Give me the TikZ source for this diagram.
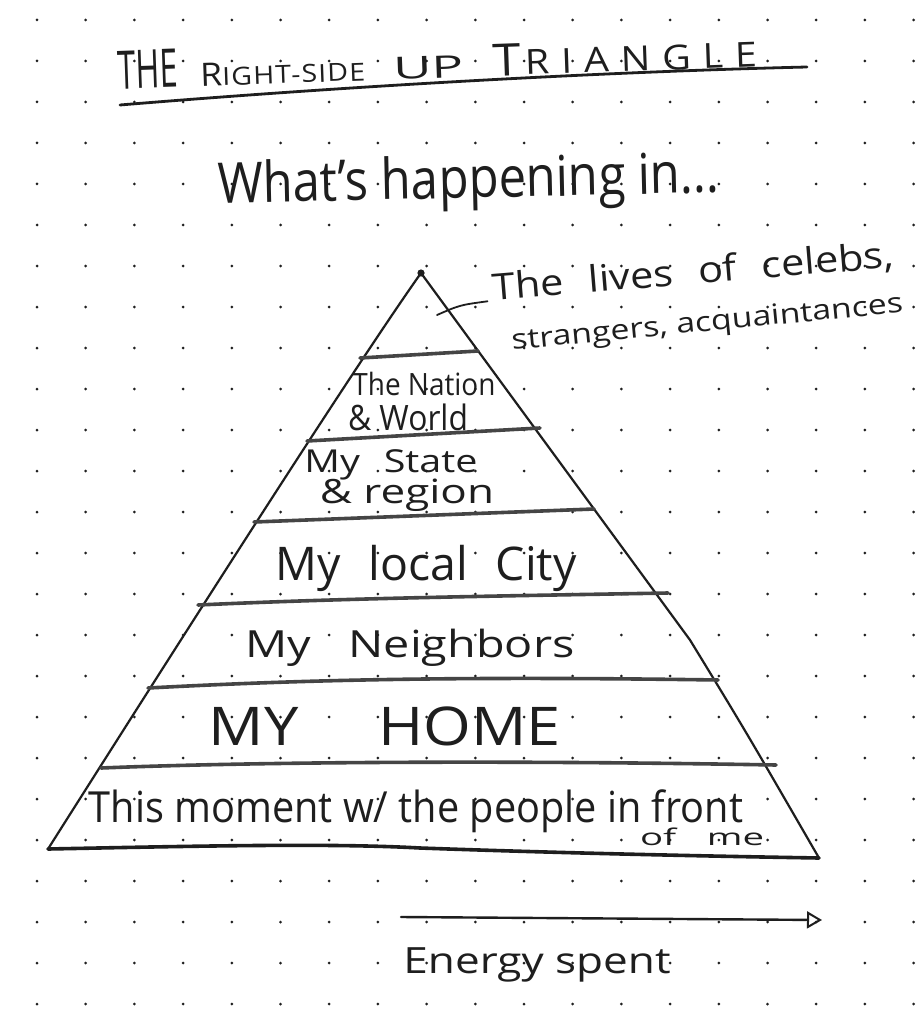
\documentclass[tikz,border=0pt]{standalone}
\usepackage{fontspec}
\setmainfont{Open Sans}
\usetikzlibrary{arrows.meta}
\definecolor{ink}{HTML}{1E1E1E}
\definecolor{lvl}{HTML}{454545}
\definecolor{dotc}{HTML}{202020}
\newcommand{\fitw}[3]{\resizebox{#1pt}{!}{\scalebox{1}[#2]{#3}}}
\newcommand{\fitwh}[3]{\resizebox{#1pt}{#2pt}{#3}}
\begin{document}
\begin{tikzpicture}[x=1pt,y=-1pt,
  pen/.style={draw=ink, line width=2.2pt, line cap=round, line join=round},
  level/.style={draw=lvl, line width=3.6pt, line cap=round},
  hand/.style={inner sep=0pt, text=ink, anchor=base},
]
\useasboundingbox (0,0) rectangle (923,1024);
\fill[white] (0,0) rectangle (923,1024);
% dot grid of the notebook page
\foreach \i in {0,...,18}{\foreach \j in {0,...,24}{\fill[dotc] (37+48.7*\i, 20+41*\j) circle (1.5);}}

% title and underline
\node[hand, rotate=2] (title) at (438,78) {\fitwh{60}{38}{THE}\hspace{22pt}\fitwh{22}{23}{R}\fitwh{143}{18}{\addfontfeature{LetterSpace=4}IGHT-SIDE}\hspace{28pt}\fitwh{70}{22}{UP}\hspace{30pt}\fitwh{28}{32}{T}\hspace{4pt}\fitwh{232}{25}{\addfontfeature{LetterSpace=30}RIANGLE}};
\coordinate (ulA) at (120,105);
\coordinate (ulB) at (807,67);
\draw[pen, line width=2.8pt] (ulA) .. controls (350,86) and (600,72) .. (ulB);

\node[hand, rotate=1.3] (what) at (469,198) {\fitw{502}{1.15}{What's happening in...}};

% triangle
\coordinate (apex) at (421,273);
\coordinate (bl) at (48,849);
\coordinate (rk) at (690,640);
\coordinate (br) at (819,858);
\draw[pen] (bl) .. controls (250,530) and (370,345) .. (apex) -- (rk) .. controls (745,730) .. (br);
\fill[ink] (apex) circle (3.6);
\draw[level, draw=ink] (bl) .. controls (200,846) and (330,843) .. (420,848) .. controls (560,853) and (700,856) .. (br);

% level lines
\draw[level] (360,358) -- (478,351);
\draw[level] (307,441) -- (540,428);
\draw[level] (254,522) -- (594,509);
\draw[level] (198,605) .. controls (350,598) and (500,596) .. (668,593);
\draw[level] (148,688) .. controls (300,680) and (450,676) .. (718,680);
\draw[level] (101,768) .. controls (250,762) and (500,760) .. (776,765);

% annotation of the top
\node[hand, rotate=4.7] (celebs) at (694,284) {\fitw{402}{0.88}{\spaceskip=0.6em The lives of celebs,}};
\node[hand, rotate=5.5] (strangers) at (708,331) {\fitw{393}{0.82}{strangers, acquaintances}};
\coordinate (ld) at (437,315);
\draw[pen, line width=1.8pt, shorten >=6pt] (ld) .. controls (460,305) .. (celebs.base west);

% labels of the levels
\node[hand] (nation) at (424,395) {\fitw{143}{1.1}{The Nation}};
\node[hand] (world) at (408,430) {\fitw{120}{1.1}{\& World}};
\node[hand] (state) at (391,472) {\fitw{173}{0.8}{\spaceskip=0.6em My State}};
\node[hand] (region) at (407,503) {\fitw{174}{0.76}{\& region}};
\node[hand] (city) at (426,580) {\fitw{301}{1.0}{\spaceskip=0.6em My local City}};
\node[hand] (neigh) at (410,657) {\fitw{329}{0.8}{\spaceskip=0.8em My Neighbors}};
\node[hand] (home) at (385,745) {\fitw{352}{0.87}{\spaceskip=1.3em MY HOME}};
\node[hand] (moment) at (416,822) {\fitw{654}{1.08}{This moment w/ the people in front}};
\node[hand] (ofme) at (702,845) {\fitw{124}{0.6}{\spaceskip=0.8em of me}};

% energy axis
\coordinate (ea) at (401,917);
\coordinate (eb) at (822,920);
\draw[pen, line width=2.4pt, -{Triangle[open, length=15pt, width=17pt, line width=2pt]}] (ea) -- (eb);
\node[hand] (energy) at (537,973) {\fitw{267}{0.82}{Energy spent}};
\end{tikzpicture}
\end{document}
